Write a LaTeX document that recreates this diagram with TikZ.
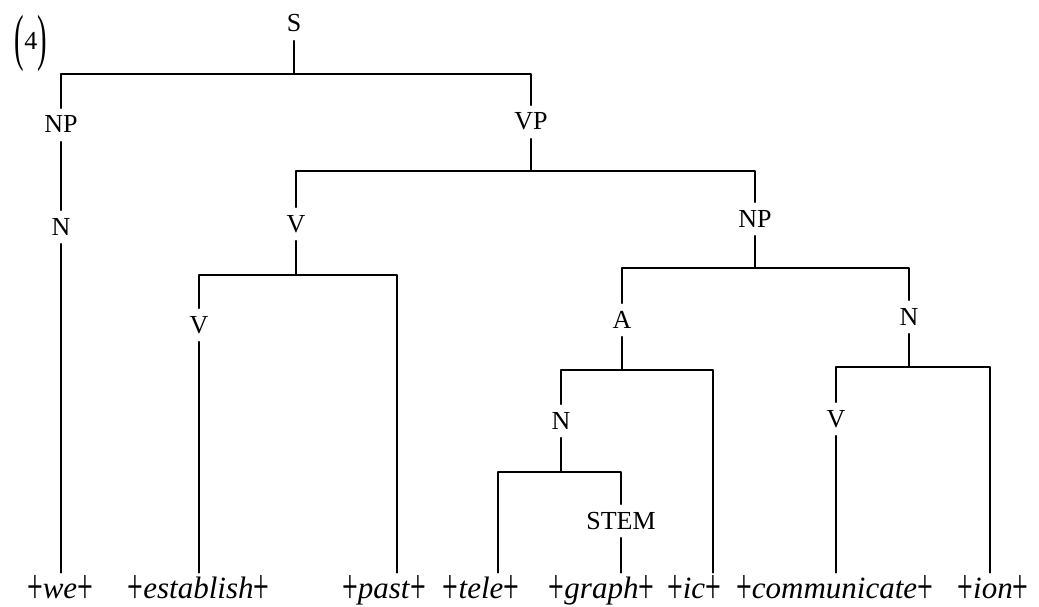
\documentclass[tikz,border=0pt]{standalone}
\usepackage{fontspec}
\setmainfont{Liberation Serif}
\usepackage{graphicx}

% tall thin boundary sign between morphemes
\newcommand{\morphplus}{\raisebox{-5pt}{\scalebox{0.9}[1.6]{+}}}

\begin{document}
\begin{tikzpicture}[x=1pt, y=-1pt, line cap=round, line join=round]
  \tikzset{
    branch/.style={line width=1.4pt, draw=black},
    cat/.style={anchor=base, inner sep=3.5pt, text height=21pt, text depth=5pt, font=\fontsize{26pt}{30pt}\selectfont},
    morph/.style={anchor=base, inner sep=2pt, text height=23pt, text depth=3pt, font=\fontsize{31pt}{36pt}\selectfont}
  }
  \useasboundingbox (0,0) rectangle (1039,607);

  % Example number
  \node[font=\fontsize{26pt}{30pt}\selectfont] (num) at (31,43)
    {\raisebox{-0.32em}{\scalebox{1.1}[2.4]{(}}4\raisebox{-0.32em}{\scalebox{1.1}[2.4]{)}}};

  % Category labels
  \node[cat] (S)    at (294,32)  {S};
  \node[cat] (NPs)  at (61,133)  {NP};
  \node[cat] (VP)   at (531,130) {VP};
  \node[cat] (Ns)   at (61,235)  {N};
  \node[cat] (Vt)   at (296,232) {V};
  \node[cat] (NPo)  at (755,227) {NP};
  \node[cat] (Vs)   at (199,333) {V};
  \node[cat] (A)    at (622,328) {A};
  \node[cat] (No)   at (909,325) {N};
  \node[cat] (Na)   at (561,429) {N};
  \node[cat] (Vn)   at (836,427) {V};
  \node[cat] (STEM) at (621,529) {STEM};

  % Morphemes along the bottom
  \node[morph] (we)    at (60,598)    {\morphplus\textit{we}\morphplus};
  \node[morph] (est)   at (198.5,598) {\morphplus\textit{establish}\morphplus};
  \node[morph] (past)  at (384,598)   {\morphplus\textit{past}\morphplus};
  \node[morph] (tele)  at (481,598)   {\morphplus\textit{tele}\morphplus};
  \node[morph] (graph) at (601.5,598) {\morphplus\textit{graph}\morphplus};
  \node[morph] (ic)    at (694,598)   {\morphplus\textit{ic}\morphplus};
  \node[morph] (comm)  at (834.5,598) {\morphplus\textit{communicate}\morphplus};
  \node[morph] (ion)   at (993,598)   {\morphplus\textit{ion}\morphplus};

  % S
  \coordinate (S-bar) at (294,74);
  \draw[branch] (S.south) -- (S-bar);
  \draw[branch] (NPs.north) |- (S-bar) -| (VP.north);

  % NP (subject)
  \draw[branch] (NPs.south) -- (Ns.north);
  \draw[branch] (Ns.south) -- (Ns.south |- we.north);

  % VP
  \coordinate (VP-bar) at (531,171);
  \draw[branch] (VP.south) -- (VP-bar);
  \draw[branch] (Vt.north) |- (VP-bar) -| (NPo.north);

  % V + past
  \coordinate (Vt-bar) at (296,275);
  \draw[branch] (Vt.south) -- (Vt-bar);
  \draw[branch] (Vs.north) |- (Vt-bar) -| ([xshift=13pt]past.north);
  \draw[branch] (Vs.south) -- (Vs.south |- est.north);

  % NP (object)
  \coordinate (NPo-bar) at (755,268);
  \draw[branch] (NPo.south) -- (NPo-bar);
  \draw[branch] (A.north) |- (NPo-bar) -| (No.north);

  % A
  \coordinate (A-bar) at (622,370);
  \draw[branch] (A.south) -- (A-bar);
  \draw[branch] (Na.north) |- (A-bar) -| ([xshift=19pt]ic.north);

  % N (tele + STEM)
  \coordinate (Na-bar) at (561,472);
  \draw[branch] (Na.south) -- (Na-bar);
  \draw[branch] ([xshift=17pt]tele.north) |- (Na-bar) -| (STEM.north);
  \draw[branch] (STEM.south) -- (STEM.south |- graph.north);

  % N (communicate + ion)
  \coordinate (No-bar) at (909,367);
  \draw[branch] (No.south) -- (No-bar);
  \draw[branch] (Vn.north) |- (No-bar) -| ([xshift=-3pt]ion.north);
  \draw[branch] (Vn.south) -- (Vn.south |- comm.north);

\end{tikzpicture}
\end{document}
